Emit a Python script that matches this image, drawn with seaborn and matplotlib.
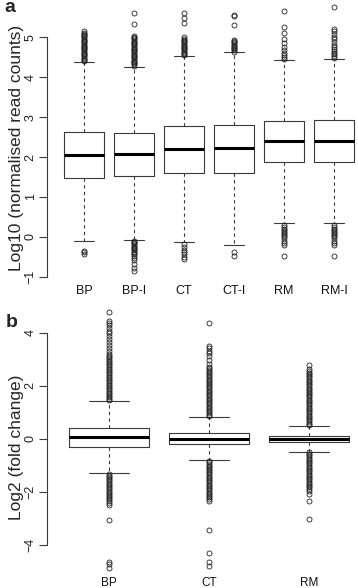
import matplotlib
matplotlib.use("Agg")
import matplotlib.pyplot as plt
import seaborn as sns

# ---- panel a: log10 normalised read counts ----
GROUPS_A = ["BP", "BP-I", "CT", "CT-I", "RM", "RM-I"]
WHISLO_A = [-0.11, -0.08, -0.14, -0.21, 0.36, 0.36]
Q1_A = [1.47, 1.52, 1.59, 1.59, 1.88, 1.88]
MED_A = [2.04, 2.08, 2.20, 2.23, 2.40, 2.40]
Q3_A = [2.63, 2.61, 2.78, 2.80, 2.91, 2.93]
WHISHI_A = [4.37, 4.26, 4.52, 4.62, 4.43, 4.46]

BP_OUT = [4.40, 4.43, 4.46, 4.49, 4.52, 4.55, 4.58, 4.61, 4.64, 4.67, 4.70,
          4.73, 4.76, 4.79, 4.82, 4.85, 4.88, 4.91, 4.94, 4.97, 5.00, 5.03,
          5.06, 5.09, 5.12, 5.15, -0.36, -0.39, -0.42]
BPI_OUT = [4.29, 4.32, 4.35, 4.38, 4.41, 4.44, 4.47, 4.50, 4.53, 4.56, 4.59,
           4.62, 4.65, 4.68, 4.71, 4.74, 4.77, 4.80, 4.83, 4.86, 4.89, 4.92,
           4.95, 4.98, 5.01, 5.04, 5.34, 5.60,
           -0.10, -0.13, -0.16, -0.19, -0.22, -0.25, -0.28, -0.31, -0.34,
           -0.37, -0.40, -0.44, -0.48, -0.53, -0.58, -0.68, -0.78, -0.86]
CT_OUT = [4.55, 4.58, 4.61, 4.64, 4.67, 4.70, 4.73, 4.76, 4.79, 4.82, 4.85,
          4.88, 4.91, 4.94, 4.97, 5.00, 5.36, 5.48, 5.60,
          -0.17, -0.25, -0.32, -0.38, -0.44, -0.50, -0.56]
CTI_OUT = [4.64, 4.67, 4.70, 4.73, 4.76, 4.79, 4.82, 4.85, 4.88, 4.91, 4.94,
           5.31, 5.53, 5.57, -0.37, -0.49]
RM_OUT = [4.46, 4.51, 4.56, 4.61, 4.68, 4.77, 4.87, 4.97, 5.10, 5.25, 5.66,
          0.30, 0.25, 0.21, 0.17, 0.13, 0.09, 0.05, 0.01, -0.04, -0.10,
          -0.16, -0.21, -0.48]
RMI_OUT = [4.49, 4.53, 4.57, 4.61, 4.65, 4.70, 4.76, 4.82, 4.88, 4.95, 5.02,
           5.09, 5.15, 5.20, 5.75,
           0.30, 0.25, 0.21, 0.17, 0.13, 0.09, 0.05, 0.01, -0.04, -0.10,
           -0.16, -0.21, -0.48]
FLIERS_A = [BP_OUT, BPI_OUT, CT_OUT, CTI_OUT, RM_OUT, RMI_OUT]

# ---- panel b: log2 fold change ----
GROUPS_B = ["BP", "CT", "RM"]
WHISLO_B = [-1.29, -0.79, -0.48]
Q1_B = [-0.29, -0.19, -0.125]
MED_B = [0.075, 0.0, 0.0]
Q3_B = [0.40, 0.21, 0.125]
WHISHI_B = [1.43, 0.84, 0.49]

BP_FC_OUT = [1.45, 1.51, 1.57, 1.63, 1.69, 1.75, 1.81, 1.87, 1.93, 1.99, 2.05,
             2.11, 2.17, 2.23, 2.29, 2.35, 2.41, 2.47, 2.53, 2.59, 2.65, 2.71,
             2.77, 2.83, 2.89, 2.95, 3.01, 3.07, 3.13, 3.19, 3.31, 3.43, 3.55,
             3.67, 3.78, 3.88, 3.98, 4.08, 4.18, 4.28, 4.37, 4.46, 4.77,
             -1.32, -1.38, -1.44, -1.50, -1.56, -1.62, -1.68, -1.74, -1.80,
             -1.86, -1.92, -1.98, -2.04, -2.10, -2.16, -2.22, -2.28, -2.34,
             -2.40, -2.47, -3.05, -4.62, -4.72, -4.86]
CT_FC_OUT = [0.86, 0.92, 0.98, 1.04, 1.10, 1.16, 1.22, 1.28, 1.34, 1.40, 1.46,
             1.52, 1.58, 1.64, 1.70, 1.76, 1.82, 1.88, 1.94, 2.00, 2.06, 2.12,
             2.18, 2.24, 2.30, 2.36, 2.42, 2.48, 2.54, 2.60, 2.66, 2.72, 2.84,
             2.97, 3.12, 3.22, 3.32, 3.42, 3.52, 4.36,
             -0.82, -0.88, -0.94, -1.00, -1.06, -1.12, -1.18, -1.24, -1.30,
             -1.36, -1.42, -1.48, -1.54, -1.60, -1.66, -1.72, -1.78, -1.84,
             -1.90, -1.96, -2.02, -2.08, -2.14, -2.20, -2.26, -2.34, -3.43,
             -4.29, -4.64, -4.80]
RM_FC_OUT = [0.52, 0.58, 0.64, 0.70, 0.76, 0.82, 0.88, 0.94, 1.00, 1.06, 1.12,
             1.18, 1.24, 1.30, 1.36, 1.42, 1.48, 1.54, 1.60, 1.66, 1.72, 1.78,
             1.84, 1.90, 1.96, 2.02, 2.08, 2.14, 2.20, 2.26, 2.32, 2.38, 2.44,
             2.50, 2.56, 2.62, 2.80,
             -0.50, -0.56, -0.62, -0.68, -0.74, -0.80, -0.86, -0.92, -0.98,
             -1.04, -1.10, -1.16, -1.22, -1.28, -1.34, -1.40, -1.46, -1.52,
             -1.58, -1.64, -1.70, -1.76, -1.82, -1.88, -1.96, -2.08, -2.33,
             -3.00]
FLIERS_B = [BP_FC_OUT, CT_FC_OUT, RM_FC_OUT]

LINE = "#3a3a3a"


def box_stats(groups, whislo, q1, med, q3, whishi, fliers):
    return [
        dict(label=g, whislo=lo, q1=a, med=m, q3=b, whishi=hi, fliers=f)
        for g, lo, a, m, b, hi, f in zip(groups, whislo, q1, med, q3, whishi, fliers)
    ]


def draw_panel(ax, stats, xlim, ylim, yticks, xpad, xsize):
    pos = list(range(1, len(stats) + 1))
    ax.bxp(
        stats,
        positions=pos,
        widths=0.8,
        capwidths=0.4,
        boxprops=dict(color=LINE, linewidth=0.8),
        whiskerprops=dict(color=LINE, linewidth=0.8, linestyle=(0, (3, 3))),
        capprops=dict(color=LINE, linewidth=0.8),
        medianprops=dict(color="black", linewidth=2.2),
        flierprops=dict(marker="o", markerfacecolor="none", markeredgecolor="#222222",
                        markersize=3.6, markeredgewidth=0.6),
    )
    ax.set_xlim(*xlim)
    ax.set_ylim(*ylim)
    ax.set_yticks(yticks)
    ax.set_xticks(pos, labels=[s["label"] for s in stats])
    sns.despine(ax=ax, bottom=True, trim=True)
    ax.spines["left"].set_color(LINE)
    ax.spines["left"].set_linewidth(0.8)
    ax.tick_params(axis="x", length=0, pad=xpad, labelsize=xsize, labelcolor="#111111")
    ax.tick_params(axis="y", length=6, width=0.8, color=LINE, pad=1.5,
                   labelsize=9, labelcolor="#222222")
    for lab in ax.get_yticklabels():
        lab.set_rotation(90)
        lab.set_rotation_mode("default")
        lab.set_ha("right")
        lab.set_va("center")


def main():
    sns.set_style("ticks")
    plt.rcParams["font.family"] = ["Liberation Sans", "DejaVu Sans"]

    fig = plt.figure(figsize=(3.58, 5.88), dpi=100)
    W, H = 358, 588
    ax_a = fig.add_axes([47 / W, 1 - 282 / H, 311 / W, 279 / H])
    ax_b = fig.add_axes([47 / W, 1 - 577 / H, 311 / W, 275 / H])

    stats_a = box_stats(GROUPS_A, WHISLO_A, Q1_A, MED_A, Q3_A, WHISHI_A, FLIERS_A)
    stats_b = box_stats(GROUPS_B, WHISLO_B, Q1_B, MED_B, Q3_B, WHISHI_B, FLIERS_B)

    draw_panel(ax_a, stats_a, (0.26, 6.48), (-1.13, 5.86), [-1, 0, 1, 2, 3, 4, 5], 2, 9)
    draw_panel(ax_b, stats_b, (0.38, 3.49), (-5.20, 5.16), [-4, -2, 0, 2, 4], 0, 8.5)

    fig.text(17 / W, 1 - 148 / H, "Log10 (normalised read counts)", rotation=90,
             ha="center", va="center", fontsize=12.5)
    fig.text(17 / W, 1 - 447 / H, "Log2 (fold change)", rotation=90,
             ha="center", va="center", fontsize=12.5)
    fig.text(10 / W, 1 - 8 / H, "a", ha="center", va="center",
             fontsize=14, fontweight="bold")
    fig.text(12 / W, 1 - 322 / H, "b", ha="center", va="center",
             fontsize=14, fontweight="bold")

    fig.savefig("out.png", dpi=100)
    plt.close(fig)


if __name__ == "__main__":
    main()
